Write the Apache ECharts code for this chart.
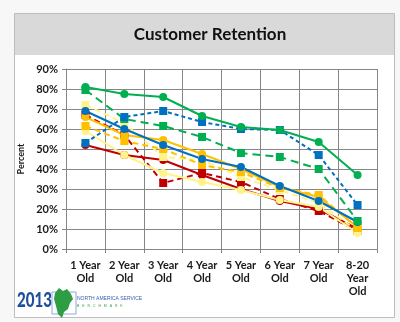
<!DOCTYPE html>
<html><head><meta charset="utf-8">
<script src="https://cdn.jsdelivr.net/npm/echarts@6/dist/echarts.min.js"></script>
<style>html,body{margin:0;padding:0;background:#f7f7f7;}#c{width:400px;height:322px;}</style>
</head><body><div id="c"></div>
<script>
var categories = ['1 Year\nOld','2 Year\nOld','3 Year\nOld','4 Year\nOld','5 Year\nOld','6 Year\nOld','7 Year\nOld','8-20\nYear\nOld'];
var yTicks = [0,10,20,30,40,50,60,70,80,90];
var greenSolid   = [81, 77.5, 76, 66.5, 61, 59.5, 53.5, 37];
var blueDashed   = [53, 66, 69, 63.5, 60, 59.5, 47, 22];
var greenDashed  = [79.5, 65, 61.5, 56, 48, 46, 40, 14];
var blueSolid    = [69, 60, 52, 45, 41, 31.5, 24, 13.5];
var orangeSolid  = [66, 57, 54.5, 47.5, 40, 31, 26, 11];
var orangeDashed = [61.5, 54, 50, 42, 38.5, 30.5, 27, 10.5];
var yellowDashed = [72, 63, 46, 44.5, 36, 29.5, 23, 9];
var yellowSolid  = [59, 47, 38, 33.5, 29.5, 24.5, 21, 8];
var redSolid     = [52, 47, 44.5, 37, 30, 24, 20, 10];
var redDashed    = [67, 57, 33, 38, 33.5, 25, 19, 9];

var GREEN='#00b050', BLUE='#0070c0', RED='#c00000', ORANGE='#ffc000', PALE='#fff38a';
function s(name, data, color, dashed, symbol, dash){
  return {name:name, type:'line', data:data, symbol:symbol, symbolSize:8,
    lineStyle:{color:color, width:2, type: dashed ? (dash||[6,4]) : 'solid'},
    itemStyle:{color:color}, animation:false};
}
var chart = echarts.init(document.getElementById('c'));
chart.setOption({
  backgroundColor:'transparent',
  title:{text:'Customer Retention', left:205, top:21, textAlign:'center',
    textStyle:{fontFamily:'Lato', fontWeight:'bold', fontSize:17, color:'#111'}},
  graphic:[
    {type:'rect', z:-10, shape:{x:14.5,y:13.5,width:380,height:304}, style:{fill:'#fff', stroke:'#bdbdbd', lineWidth:1}},
    {type:'rect', z:-9, shape:{x:15,y:14,width:379,height:41}, style:{fill:'#d9d9d9'}},
    {type:'text', x:17, y:290, scaleX:0.72, style:{text:'2013', fontFamily:'Lato', fontWeight:900, fontSize:21, fill:'#1f4e9c'}},
    {type:'rect', shape:{x:52,y:292,width:24,height:22}, style:{fill:'none', stroke:'#8fa8d8', lineWidth:1}},
    {type:'polygon', shape:{points:[[55,293],[59,288],[63,291],[67,289],[71,294],[73,299],[70,303],[68,309],[64,312],[62,318],[58,314],[56,306],[54,299]]}, style:{fill:'#2e9e44'}},
    {type:'text', x:77, y:296, style:{text:'NORTH AMERICA SERVICE', fontFamily:'Liberation Sans, sans-serif', fontSize:5, fill:'#3a62b0'}},
    {type:'text', x:77, y:304, style:{text:'B   E   N   C   H   M   A   R   K', fontFamily:'Liberation Sans, sans-serif', fontSize:3.5, fill:'#3aa14a'}}
  ],
  grid:{left:66, right:23, top:69, bottom:73},
  xAxis:{type:'category', data:categories, boundaryGap:true,
    axisLine:{lineStyle:{color:'#868686'}},
    axisTick:{show:true, length:4, lineStyle:{color:'#868686'}},
    splitLine:{show:true, lineStyle:{color:'#868686', width:1}},
    axisLabel:{interval:0, margin:10, lineHeight:13, fontFamily:'Lato', fontWeight:'bold', fontSize:11, color:'#1a1a1a'}},
  yAxis:{type:'value', min:0, max:90, interval:10,
    name:'Percent', nameLocation:'middle', nameGap:34, nameRotate:90,
    nameTextStyle:{fontFamily:'Lato', fontWeight:'bold', fontSize:9, color:'#1a1a1a'},
    axisLine:{show:true, lineStyle:{color:'#868686'}},
    axisTick:{show:true, length:4, lineStyle:{color:'#868686'}},
    splitLine:{lineStyle:{color:'#868686'}},
    axisLabel:{margin:8, formatter:function(v){return v+'%';}, fontFamily:'Lato', fontWeight:'bold', fontSize:11, color:'#1a1a1a'}},
  series:[
    s('Red dashed', redDashed, RED, true, 'rect'),
    s('Red', redSolid, RED, false, 'circle'),
    s('Pale', yellowSolid, PALE, false, 'circle'),
    s('Pale dashed', yellowDashed, PALE, true, 'rect'),
    s('Orange dashed', orangeDashed, ORANGE, true, 'rect'),
    s('Orange', orangeSolid, ORANGE, false, 'circle'),
    s('Blue', blueSolid, BLUE, false, 'circle'),
    s('Green dashed', greenDashed, GREEN, true, 'rect', [8,5]),
    s('Blue dashed', blueDashed, BLUE, true, 'rect', [4,3]),
    s('Green', greenSolid, GREEN, false, 'circle')
  ]
});
</script></body></html>
